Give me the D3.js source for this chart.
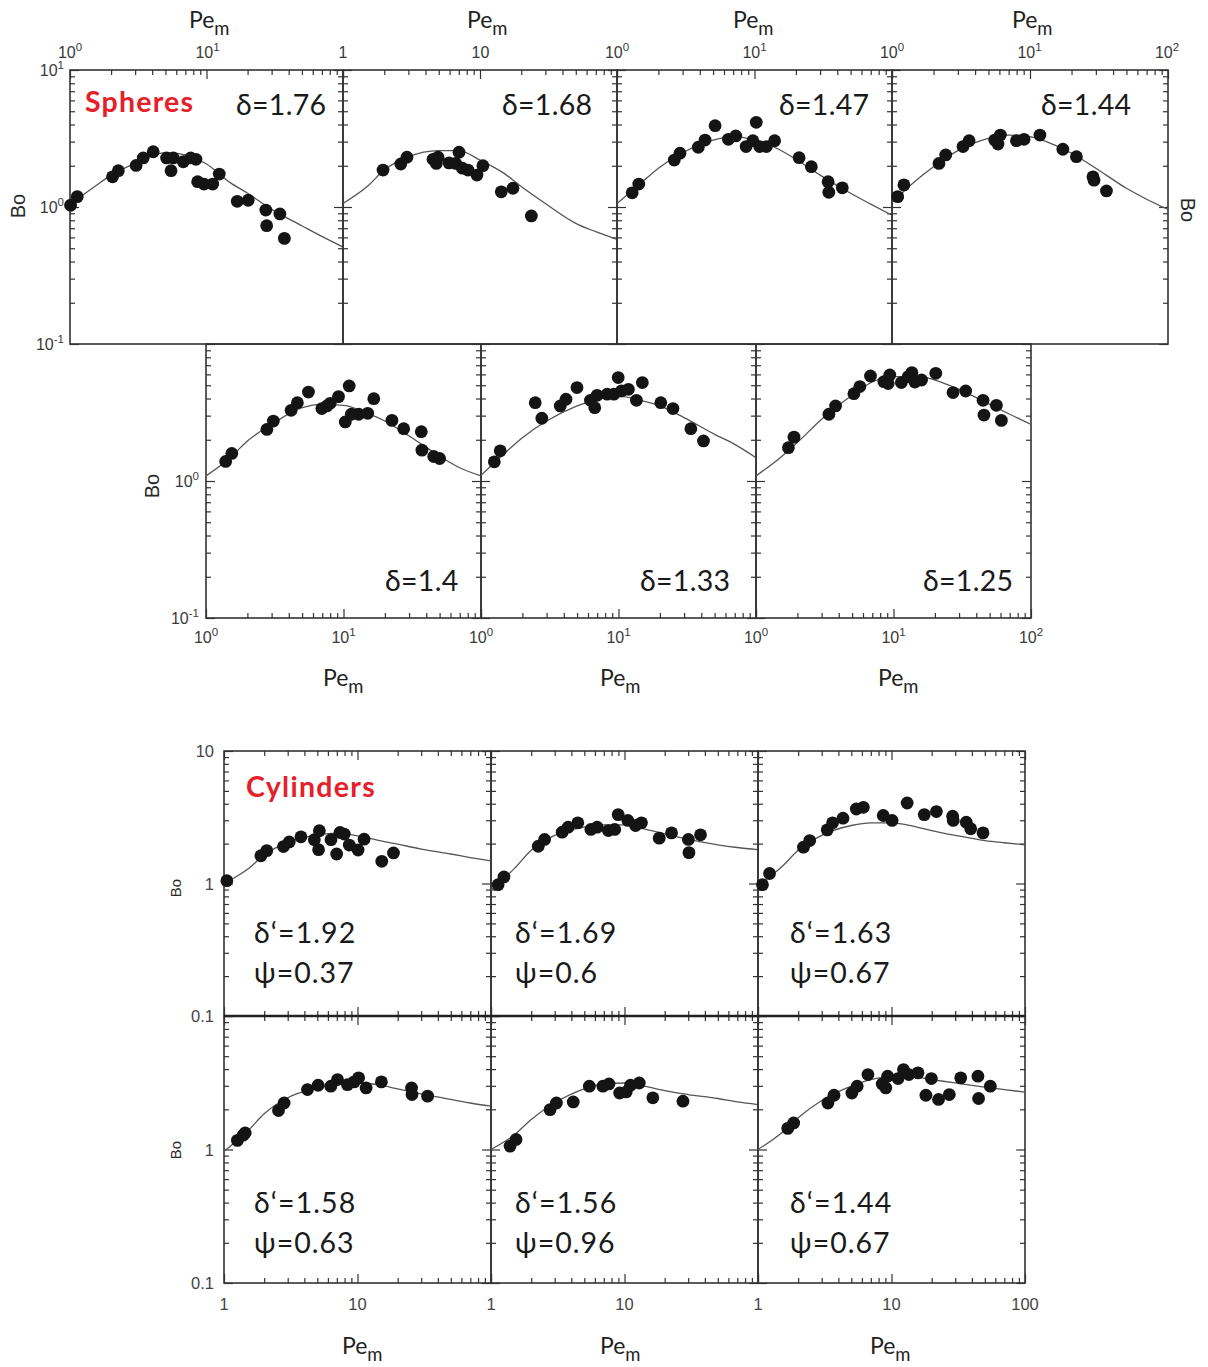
<!DOCTYPE html>
<html><head><meta charset="utf-8">
<script src="https://cdn.jsdelivr.net/npm/d3@7"></script>
<style>body{margin:0;background:#fff}</style>
</head><body>
<svg id="c" width="1208" height="1367"></svg>
<script>
// ---------------- DATA ----------------
// Pe values at which the fitted curves were read
const curvePe = [1, 1.5, 2, 3, 5, 7, 10, 15, 20, 30, 50, 70, 100];

// Spheres: measured points [Pe_m, Bo] and fitted curve Bo values
const sph176 = [[1.01,1.03],[1.13,1.19],[2.05,1.66],[2.26,1.84],[3.05,2.01],[3.44,2.28],[4.07,2.53],[5.1,2.28],[5.71,2.28],[5.5,1.84],[6.76,2.14],[7.66,2.28],[8.37,2.23],[8.61,1.53],[9.59,1.47],[11.1,1.47],[12.4,1.74],[16.8,1.10],[20.2,1.12],[27.2,0.95],[27.6,0.73],[34.5,0.89],[37.2,0.59]];
const sph176Curve = [1.05,1.40,1.71,2.08,2.49,2.40,2.06,1.50,1.26,0.96,0.73,0.61,0.51];

const sph168 = [[1.96,1.86],[2.64,2.06],[2.93,2.31],[4.54,2.23],[4.94,2.31],[4.8,2.08],[5.94,2.10],[6.65,2.08],[7.03,2.51],[7.44,1.92],[8.17,1.86],[9.5,1.71],[10.5,2.0],[14.3,1.29],[17.4,1.37],[23.7,0.86]];
const sph168Curve = [1.06,1.41,1.86,2.33,2.58,2.58,2.20,1.76,1.41,1.06,0.76,0.66,0.58];

const sph147 = [[1.29,1.27],[1.44,1.47],[2.61,2.20],[2.87,2.47],[3.90,2.73],[4.37,3.08],[5.17,3.92],[6.46,3.12],[7.31,3.30],[8.69,2.76],[9.73,3.05],[10.3,4.15],[10.9,2.76],[12.2,2.76],[14.0,3.05],[21.1,2.29],[25.9,1.97],[34.3,1.53],[34.7,1.28],[43.5,1.38]];
const sph147Curve = [1.06,1.50,1.92,2.49,3.08,3.26,3.08,2.64,2.23,1.71,1.26,1.05,0.87];

const sph144 = [[1.10,1.19],[1.22,1.45],[2.19,2.08],[2.45,2.40],[3.27,2.76],[3.62,3.05],[5.55,3.08],[5.86,2.88],[6.1,3.35],[7.97,3.05],[9.05,3.12],[11.8,3.35],[17.3,2.64],[21.7,2.33],[28.6,1.66],[29.1,1.57],[35.8,1.31]];
const sph144Curve = [1.08,1.57,1.97,2.58,3.17,3.35,3.26,2.84,2.47,1.92,1.37,1.14,0.96];

const sph140 = [[1.39,1.39],[1.54,1.59],[2.77,2.38],[3.09,2.74],[4.16,3.28],[4.62,3.73],[5.56,4.46],[6.96,3.38],[7.57,3.53],[8.0,3.69],[9.2,4.13],[10.3,2.70],[11.0,4.94],[11.4,3.07],[12.9,3.07],[15.0,3.12],[16.6,3.99],[22.5,2.77],[27.4,2.41],[36.8,2.29],[37.2,1.68],[45.3,1.51],[50.0,1.46]];
const sph140Curve = [1.09,1.48,1.96,2.59,3.43,3.63,3.57,3.12,2.74,2.13,1.52,1.25,1.09];

const sph133 = [[1.25,1.38],[1.38,1.66],[2.48,3.73],[2.77,2.87],[3.77,3.53],[4.15,3.95],[4.99,4.81],[6.25,3.88],[6.72,3.43],[6.99,4.22],[8.27,4.30],[9.25,4.30],[9.95,5.69],[10.5,4.54],[11.8,4.67],[13.5,3.88],[14.9,5.23],[20.3,3.73],[24.9,3.38],[33.6,2.41],[41.5,1.96]];
const sph133Curve = [1.10,1.61,2.07,2.74,3.53,3.95,4.17,3.84,3.53,2.90,2.19,1.85,1.48];

const sph125 = [[1.72,1.75],[1.89,2.09],[3.39,3.07],[3.79,3.53],[5.15,4.34],[5.69,4.89],[6.80,5.84],[8.51,5.31],[9.14,5.14],[9.4,5.94],[11.4,5.23],[12.8,5.78],[13.6,6.18],[14.3,5.28],[16.0,5.46],[20.3,6.11],[27.1,4.42],[33.5,4.54],[44.8,3.88],[45.5,3.03],[56.0,3.57],[60.9,2.77]];
const sph125Curve = [1.09,1.48,1.91,2.82,4.22,5.28,5.78,5.78,5.46,4.67,3.63,3.07,2.59];

// Cylinders
const cyl192 = [[1.05,1.05],[1.89,1.62],[2.09,1.77],[2.79,1.90],[3.08,2.06],[3.77,2.25],[4.75,2.14],[5.18,2.50],[5.11,1.80],[6.33,2.14],[6.98,1.67],[7.39,2.43],[7.96,2.36],[8.68,1.95],[10.1,1.79],[11.2,2.16],[15.2,1.47],[18.6,1.70]];
const cyl192Curve = [1.0,1.28,1.64,2.04,2.32,2.40,2.29,2.10,1.98,1.82,1.67,1.57,1.48];

const cyl169 = [[1.13,0.98],[1.25,1.12],[2.26,1.91],[2.52,2.15],[3.41,2.44],[3.78,2.66],[4.47,2.87],[5.60,2.56],[6.24,2.66],[7.57,2.51],[8.45,2.56],[8.97,3.31],[10.6,2.99],[12.1,2.74],[13.4,2.87],[18.2,2.20],[22.5,2.41],[30.1,2.15],[30.4,1.71],[37.1,2.33]];
const cyl169Curve = [0.89,1.30,1.78,2.31,2.66,2.77,2.77,2.54,2.37,2.15,1.96,1.87,1.80];

const cyl163 = [[1.08,0.98],[1.22,1.19],[2.19,1.88],[2.44,2.11],[3.30,2.54],[3.62,2.87],[4.33,3.11],[5.45,3.65],[6.15,3.76],[8.67,3.26],[10.1,2.99],[13.1,4.05],[17.6,3.31],[21.7,3.49],[28.7,3.22],[29.0,2.99],[36.3,2.90],[39.2,2.59],[48.5,2.41]];
const cyl163Curve = [0.97,1.33,1.78,2.31,2.74,2.87,2.87,2.69,2.51,2.31,2.11,2.03,1.96];

const cyl158 = [[1.26,1.17],[1.39,1.28],[1.44,1.33],[2.56,1.96],[2.82,2.23],[4.22,2.81],[5.07,3.03],[6.31,2.98],[7.08,3.34],[8.41,3.06],[9.44,3.21],[10.2,3.44],[11.6,2.89],[15.1,3.21],[25.4,2.89],[25.6,2.58],[33.5,2.51]];
const cyl158Curve = [0.97,1.37,1.85,2.44,2.89,3.10,3.15,3.03,2.84,2.61,2.37,2.23,2.11];

const cyl156 = [[1.39,1.06],[1.54,1.19],[2.77,1.99],[3.09,2.23],[4.13,2.27],[5.45,2.98],[6.89,2.98],[7.65,3.10],[9.2,2.65],[10.3,2.70],[11.1,3.03],[12.9,3.15],[16.3,2.44],[27.4,2.30]];
const cyl156Curve = [1.0,1.29,1.68,2.23,2.84,3.10,3.15,2.94,2.76,2.58,2.41,2.27,2.17];

const cyl144 = [[1.67,1.44],[1.85,1.58],[3.34,2.23],[3.71,2.55],[5.05,2.65],[5.53,2.98],[6.66,3.64],[8.52,3.10],[9.06,2.89],[9.35,3.54],[11.2,3.40],[12.3,3.97],[13.5,3.64],[15.8,3.75],[19.9,3.40],[18.1,2.55],[22.5,2.37],[27.1,2.58],[33.0,3.44],[44.4,3.54],[44.9,2.41],[55.0,2.98]];
const cyl144Curve = [1.0,1.33,1.73,2.33,2.98,3.34,3.50,3.48,3.34,3.15,2.93,2.81,2.69];

// Text labels
const sphereDelta = ["δ=1.76","δ=1.68","δ=1.47","δ=1.44","δ=1.4","δ=1.33","δ=1.25"];
const cylDelta = ["δ‘=1.92","δ‘=1.69","δ‘=1.63","δ‘=1.58","δ‘=1.56","δ‘=1.44"];
const cylPsi = ["ψ=0.37","ψ=0.6","ψ=0.67","ψ=0.63","ψ=0.96","ψ=0.67"];

// ---------------- LAYOUT ----------------
const svg = d3.select("#c");
const INK = "#333";
const DOT = "#141414";
const LBL = "Lato, 'Open Sans', 'Noto Sans', sans-serif";
const TICKF = "'Liberation Sans', Arial, sans-serif";

// sides: which frame edges carry ticks [bottom, top, left, right]
const sphPanels = [
  {pts: sph176, curve: sph176Curve, box:[70,70,343,344],   sides:[0,1,1,1], lab:[sphereDelta[0],236,115]},
  {pts: sph168, curve: sph168Curve, box:[343,70,617,344],  sides:[0,1,1,1], lab:[sphereDelta[1],502,115]},
  {pts: sph147, curve: sph147Curve, box:[617,70,892,344],  sides:[0,1,1,1], lab:[sphereDelta[2],779,115]},
  {pts: sph144, curve: sph144Curve, box:[892,70,1168,344], sides:[0,1,1,1], lab:[sphereDelta[3],1041,115]},
  {pts: sph140, curve: sph140Curve, box:[206,344,481,618], sides:[1,0,1,1], lab:[sphereDelta[4],385,591]},
  {pts: sph133, curve: sph133Curve, box:[481,344,756,618], sides:[1,0,1,1], lab:[sphereDelta[5],640,591]},
  {pts: sph125, curve: sph125Curve, box:[756,344,1031,618],sides:[1,0,1,1], lab:[sphereDelta[6],923,591]}
];
const cylPanels = [
  {pts: cyl192, curve: cyl192Curve, box:[224,751,491,1016],  sides:[1,1,1,1], lab:[0,254,943,983]},
  {pts: cyl169, curve: cyl169Curve, box:[491,751,758,1016],  sides:[1,1,1,1], lab:[1,515,943,983]},
  {pts: cyl163, curve: cyl163Curve, box:[758,751,1025,1016], sides:[1,1,1,1], lab:[2,790,943,983]},
  {pts: cyl158, curve: cyl158Curve, box:[224,1016,491,1283], sides:[1,1,1,1], lab:[3,254,1213,1253]},
  {pts: cyl156, curve: cyl156Curve, box:[491,1016,758,1283], sides:[1,1,1,1], lab:[4,515,1213,1253]},
  {pts: cyl144, curve: cyl144Curve, box:[758,1016,1025,1283],sides:[1,1,1,1], lab:[5,790,1213,1253]}
];

const isPow10 = v => Math.abs(Math.log10(v) - Math.round(Math.log10(v))) < 1e-6;

function drawPanel(p, idx, yDom) {
  const [x0,y0,x1,y1] = p.box;
  const xs = d3.scaleLog().domain([1,100]).range([x0,x1]);
  const ys = d3.scaleLog().domain(yDom).range([y1,y0]);
  const g = svg.append("g");
  const cid = "clip" + idx;
  svg.append("clipPath").attr("id", cid).append("rect")
    .attr("x", x0).attr("y", y0).attr("width", x1-x0).attr("height", y1-y0);

  // ticks (inward) via d3 axes
  const xt = xs.ticks(), yt = ys.ticks();
  const xMaj = xt.filter(isPow10), xMin = xt.filter(v => !isPow10(v));
  const yMaj = yt.filter(isPow10), yMin = yt.filter(v => !isPow10(v));
  const axes = [
    [() => d3.axisBottom(xs), `translate(0,${y1})`, xMaj, xMin],
    [() => d3.axisTop(xs),    `translate(0,${y0})`, xMaj, xMin],
    [() => d3.axisLeft(ys),   `translate(${x0},0)`, yMaj, yMin],
    [() => d3.axisRight(ys),  `translate(${x1},0)`, yMaj, yMin]
  ];
  axes.forEach(([mk, tr, maj, mn], k) => {
    if (!p.sides[k]) return;
    [[maj, 9], [mn, 5]].forEach(([vals, len]) => {
      const a = mk().tickValues(vals).tickSize(-len).tickFormat("");
      g.append("g").attr("transform", tr).call(a)
        .call(s => s.select(".domain").remove())
        .call(s => s.selectAll("line").attr("stroke", INK).attr("stroke-width", 1.2));
    });
  });
  g.append("rect").attr("x", x0).attr("y", y0).attr("width", x1-x0).attr("height", y1-y0)
    .attr("fill", "none").attr("stroke", INK).attr("stroke-width", 1.6);

  // fitted curve
  const line = d3.line().x(d => xs(d[0])).y(d => ys(d[1])).curve(d3.curveMonotoneX);
  const cdata = curvePe.map((v,i) => [v, p.curve[i]]);
  g.append("path").attr("d", line(cdata)).attr("fill","none")
    .attr("stroke","#555").attr("stroke-width",1.3).attr("clip-path",`url(#${cid})`);

  // points
  g.selectAll("circle.pt").data(p.pts).join("circle").attr("class","pt")
    .attr("cx", d => xs(d[0])).attr("cy", d => ys(d[1])).attr("r", 6.4).attr("fill", DOT);
  return {xs, ys};
}

function supText(x, y, base, sup, anchor, size, color, family) {
  const t = svg.append("text").attr("x", x).attr("y", y).attr("text-anchor", anchor)
    .attr("font-family", family || TICKF).attr("font-size", size).attr("fill", color || "#3a3a3a");
  t.append("tspan").text(base);
  if (sup !== null && sup !== undefined) {
    t.append("tspan").attr("dy", -size*0.42).attr("font-size", size*0.72).text(sup);
  }
  return t;
}
function peLabel(x, y, size) {
  const t = svg.append("text").attr("x", x).attr("y", y).attr("font-family", LBL)
    .attr("font-size", size).attr("fill", "#222");
  t.append("tspan").text("Pe");
  t.append("tspan").attr("dy", size*0.3).attr("font-size", size*0.8).text("m");
}
function boLabel(x, y, size, rot) {
  svg.append("text").attr("transform", `translate(${x},${y}) rotate(${rot})`)
    .attr("text-anchor","middle").attr("dominant-baseline","central")
    .attr("font-family", TICKF).attr("font-size", size).attr("fill", "#2a2a2a").text("Bo");
}
function bigText(x, y, txt, spacing) {
  svg.append("text").attr("x", x).attr("y", y).attr("font-family", LBL)
    .attr("font-size", 28.5).attr("letter-spacing", spacing || 0).attr("fill", "#1a1a1a").text(txt);
}

// ---------------- SPHERES ----------------
sphPanels.forEach((p, i) => {
  drawPanel(p, i, [0.1, 10]);
  bigText(p.lab[1], p.lab[2], p.lab[0], 0.3);
});
svg.append("text").attr("x", 85).attr("y", 112).attr("font-family", LBL).attr("font-weight","bold")
  .attr("font-size", 28.5).attr("letter-spacing", 1.2).attr("fill", "#e5202a").text("Spheres");

// top x tick labels
const topTickSets = [
  [70,  [["10","0"],["10","1"]]],
  [343, [["1",null],["10",null]]],
  [617, [["10","0"],["10","1"]]],
  [892, [["10","0"],["10","1"],["10","2"]]]
];
topTickSets.forEach(([x0, labs]) => {
  const xs = d3.scaleLog().domain([1,100]).range([x0, x0+275]);
  const vals = [1,10,100];
  labs.forEach((l, k) => supText(xs(vals[k]), 58, l[0], l[1], "middle", 16));
});
// left y tick labels
const ySph1 = d3.scaleLog().domain([0.1,10]).range([344,70]);
[[10,"1"],[1,"0"],[0.1,"-1"]].forEach(([v,s]) => supText(64, ySph1(v)+6, "10", s, "end", 16));
const ySph2 = d3.scaleLog().domain([0.1,10]).range([618,344]);
[[1,"0"],[0.1,"-1"]].forEach(([v,s]) => supText(199, ySph2(v)+6, "10", s, "end", 16));
// bottom x tick labels (middle row)
[206,481,756].forEach((x0, j) => {
  const xs = d3.scaleLog().domain([1,100]).range([x0, x0+275]);
  supText(xs(1), 643, "10", "0", "middle", 16);
  supText(xs(10), 643, "10", "1", "middle", 16);
  if (j === 2) supText(xs(100), 643, "10", "2", "middle", 16);
});
[189,467,733,1012].forEach(x => peLabel(x, 28, 23));
[323,600,878].forEach(x => peLabel(x, 686, 23));
boLabel(18, 206, 20, -90);
boLabel(152, 486, 20, -90);
boLabel(1188, 210, 20, 90);

// ---------------- CYLINDERS ----------------
cylPanels.forEach((p, i) => {
  drawPanel(p, 10+i, [0.1, 10]);
  const k = p.lab[0];
  bigText(p.lab[1], p.lab[2], cylDelta[k], 1.1);
  bigText(p.lab[1], p.lab[3], cylPsi[k], 1.0);
});
// thick separator between cylinder rows
svg.append("line").attr("x1",224).attr("x2",1025).attr("y1",1016).attr("y2",1016)
  .attr("stroke","#222").attr("stroke-width",2.6);
svg.append("text").attr("x", 246).attr("y", 797).attr("font-family", LBL).attr("font-weight","bold")
  .attr("font-size", 28.5).attr("letter-spacing", 1.3).attr("fill", "#e5202a").text("Cylinders");

const cylY1 = d3.scaleLog().domain([0.1,10]).range([1016,751]);
[[10,"10"],[1,"1"],[0.1,"0.1"]].forEach(([v,s]) => supText(214, cylY1(v)+6, s, null, "end", 16.5, "#454545"));
const cylY2 = d3.scaleLog().domain([0.1,10]).range([1283,1016]);
[[1,"1"],[0.1,"0.1"]].forEach(([v,s]) => supText(214, cylY2(v)+6, s, null, "end", 16.5, "#454545"));
[224,491,758].forEach((x0, j) => {
  const xs = d3.scaleLog().domain([1,100]).range([x0, x0+267]);
  supText(xs(1), 1310, "1", null, "middle", 16.5, "#454545");
  supText(xs(10), 1310, "10", null, "middle", 16.5, "#454545");
  if (j === 2) supText(xs(100), 1310, "100", null, "middle", 16.5, "#454545");
});
[342,600,870].forEach(x => peLabel(x, 1354, 23));
boLabel(175, 888, 15, -90);
boLabel(175, 1150, 15, -90);
</script>
</body></html>
